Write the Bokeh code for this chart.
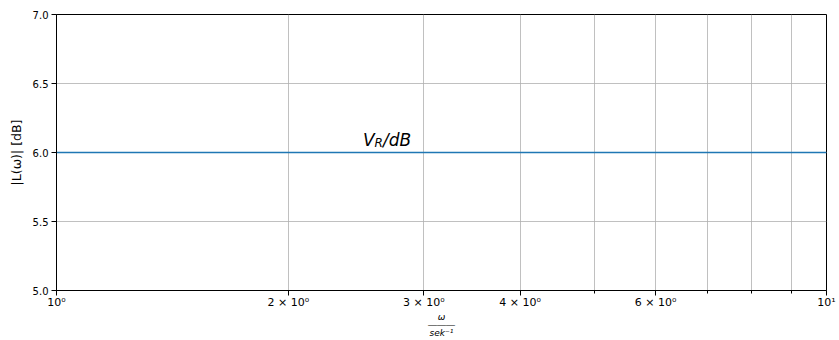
from bokeh.plotting import figure
from bokeh.models import FixedTicker, CustomJSTickFormatter, Range1d
from bokeh.embed import file_html
from bokeh.resources import INLINE
from bokeh.core.properties import value

# Frequency response: constant gain of the proportional element
omega = [1.0, 10.0]
gain_db = [6.0, 6.0]

# Axis ticks
x_major = [1, 2, 3, 4, 6, 10]
x_major_labels = ["10\u2070", "2 \u00d7 10\u2070", "3 \u00d7 10\u2070",
                  "4 \u00d7 10\u2070", "6 \u00d7 10\u2070", "10\u00b9"]
x_minor = [5, 7, 8, 9]
y_ticks = [5.0, 5.5, 6.0, 6.5, 7.0]

# Annotation
note_x, note_y = 2.5, 6.05

FONT = "DejaVu Sans"
GRID = "#b0b0b0"

p = figure(width=839, height=340, x_axis_type="log",
           x_range=Range1d(1, 10), y_range=Range1d(5, 7),
           output_backend="svg", toolbar_location=None,
           min_border_left=56, min_border_right=13,
           min_border_top=14, min_border_bottom=50)
p.background_fill_color = "white"
p.border_fill_color = "white"
p.outline_line_color = "black"
p.outline_line_width = 1

p.line(omega, gain_db, line_color="#1f77b4", line_width=1.5)

# V_R/dB label, built from italic pieces with a subscript
lift = -6
p.text(x=[note_x], y=[note_y], text=["V"], text_font=value(FONT),
       text_font_style="italic", text_font_size="17px",
       text_baseline="alphabetic", text_align="left", text_color="black",
       y_offset=lift)
p.text(x=[note_x], y=[note_y], text=["R"], text_font=value(FONT),
       text_font_style="italic", text_font_size="12px",
       text_baseline="alphabetic", text_align="left", text_color="black",
       x_offset=11.5, y_offset=lift + 3.5)
p.text(x=[note_x], y=[note_y], text=["/dB"], text_font=value(FONT),
       text_font_style="italic", text_font_size="17px",
       text_baseline="alphabetic", text_align="left", text_color="black",
       x_offset=20, y_offset=lift)

# x axis
xa = p.xaxis[0]
xa.ticker = FixedTicker(ticks=x_major, minor_ticks=x_minor)
xa.formatter = CustomJSTickFormatter(args=dict(vals=x_major, labs=x_major_labels), code="""
    for (let i = 0; i < vals.length; i++) {
        if (Math.abs(vals[i] - tick) < 1e-9) return labs[i];
    }
    return "";
""")
xa.major_label_text_font = FONT
xa.major_label_text_font_size = "11px"
xa.major_label_text_color = "black"
xa.major_label_standoff = 0
xa.major_tick_out = 5
xa.major_tick_in = 0
xa.minor_tick_out = 3
xa.minor_tick_in = 0
xa.axis_line_color = "black"
xa.major_tick_line_color = "black"
xa.minor_tick_line_color = "black"
# axis title as a stacked fraction: omega over sek^-1
xa.axis_label = "\u03c9\n\u2015\u2015\u2015\nsek\u207b\u00b9"
xa.axis_label_text_font = FONT
xa.axis_label_text_font_size = "9px"
xa.axis_label_text_font_style = "italic"
xa.axis_label_text_color = "black"
xa.axis_label_text_line_height = 0.8
xa.axis_label_standoff = 0

# y axis
ya = p.yaxis[0]
ya.ticker = FixedTicker(ticks=y_ticks)
ya.major_label_overrides = {t: f"{t:.1f}" for t in y_ticks}
ya.major_label_text_font = FONT
ya.major_label_text_font_size = "10px"
ya.major_label_text_color = "black"
ya.major_label_standoff = 3
ya.major_tick_out = 5
ya.major_tick_in = 0
ya.minor_tick_line_color = None
ya.axis_line_color = "black"
ya.major_tick_line_color = "black"
ya.axis_label = "|L(\u03c9)| [dB]"
ya.axis_label_text_font = FONT
ya.axis_label_text_font_size = "12.5px"
ya.axis_label_text_font_style = "normal"
ya.axis_label_text_color = "black"
ya.axis_label_standoff = 6

# grid
p.xgrid.grid_line_color = GRID
p.xgrid.grid_line_width = 0.8
p.xgrid.minor_grid_line_color = GRID
p.xgrid.minor_grid_line_width = 0.8
p.ygrid.grid_line_color = GRID
p.ygrid.grid_line_width = 0.8

open("out.html", "w").write(file_html(p, INLINE))
